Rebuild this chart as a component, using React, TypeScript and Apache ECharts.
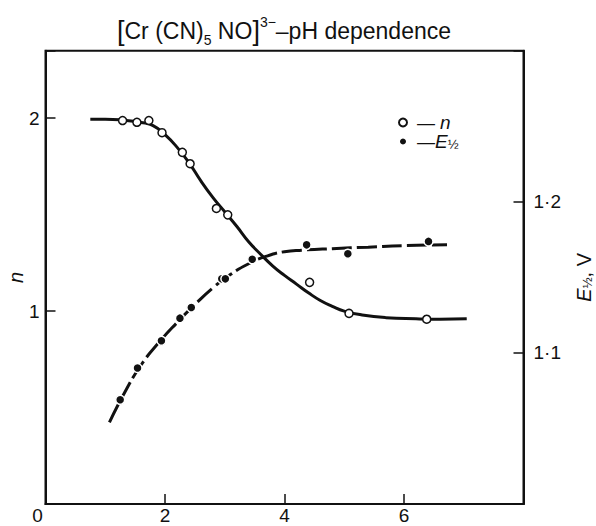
import React, { useEffect, useRef } from "react";
import * as echarts from "echarts";

// ---- data ----
// fitted n curve (left axis)
const nCurvePH = [0.75, 1.0, 1.3, 1.6, 1.8, 2.0, 2.2, 2.4, 2.6, 2.8, 3.0, 3.2, 3.4, 3.6, 3.8, 4.0, 4.2, 4.4, 4.6, 4.8, 5.0, 5.3, 5.7, 6.2, 6.6, 7.05];
const nCurveN = [1.995, 1.995, 1.99, 1.978, 1.962, 1.915, 1.85, 1.77, 1.675, 1.59, 1.515, 1.44, 1.36, 1.295, 1.235, 1.185, 1.14, 1.095, 1.055, 1.025, 1.0, 0.98, 0.966, 0.96, 0.958, 0.96];
// measured n (open circles)
const nPointsPH = [1.29, 1.53, 1.73, 1.95, 2.29, 2.42, 2.86, 3.05, 4.42, 5.08, 6.38];
const nPointsN = [1.988, 1.979, 1.988, 1.925, 1.823, 1.764, 1.532, 1.499, 1.149, 0.988, 0.958];
// fitted E1/2 curve (right axis, V)
const eCurvePH = [1.07, 1.3, 1.6, 1.9, 2.2, 2.5, 2.8, 3.1, 3.4, 3.7, 4.0, 4.3, 4.8, 5.4, 6.0, 6.72];
const eCurveE = [1.054, 1.072, 1.092, 1.107, 1.12, 1.132, 1.143, 1.152, 1.159, 1.164, 1.167, 1.168, 1.169, 1.17, 1.171, 1.1715];
// measured E1/2 (filled dots)
const ePointsPH = [1.25, 1.54, 1.94, 2.25, 2.44, 2.95, 3.01, 3.46, 4.37, 5.06, 6.41];
const ePointsE = [1.069, 1.09, 1.108, 1.123, 1.13, 1.149, 1.149, 1.162, 1.1715, 1.1656, 1.1738];

const xTicks = [0, 2, 4, 6];
const eTickLabels: Record<string, string> = { "1.1": "1·1", "1.2": "1·2" };

const FONT = "Liberation Sans";
const INK = "#111";

const pairs = (xs: number[], ys: number[]) => xs.map((x, i) => [x, ys[i]]);

export default function App() {
  const ref = useRef<HTMLDivElement>(null);
  useEffect(() => {
    if (!ref.current) return;
    const chart = echarts.init(ref.current, null, { renderer: "svg" });
    const base = { fontFamily: FONT, color: INK, fontWeight: "normal" };
    const option: any = {
      animation: false,
      backgroundColor: "#fff",
      textStyle: { fontFamily: FONT, color: INK },
      title: {
        text: "{b|[}{t|Cr (CN)}{sub|5}{t| NO}{b|]}{sup|3−}{t|–pH dependence}",
        left: 117,
        top: 15,
        padding: 0,
        textStyle: {
          fontWeight: "normal",
          rich: {
            t: { ...base, fontSize: 23, lineHeight: 32 },
            b: { ...base, fontSize: 27, lineHeight: 32 },
            sub: { ...base, fontSize: 14, lineHeight: 12, verticalAlign: "bottom" },
            sup: { ...base, fontSize: 14, lineHeight: 12, verticalAlign: "top" },
          },
        },
      },
      legend: {
        data: ["n", "E1/2"],
        orient: "vertical",
        left: 393,
        top: 108,
        itemWidth: 8,
        itemHeight: 8,
        itemGap: 0,
        selectedMode: false,
        formatter: (name: string) => (name === "n" ? " — {i|n}" : " —{i|E}{s|½}"),
        textStyle: {
          fontSize: 18,
          fontFamily: FONT,
          color: INK,
          rich: {
            i: { ...base, fontStyle: "italic", fontSize: 19 },
            s: { ...base, fontSize: 13, verticalAlign: "bottom", lineHeight: 10 },
          },
        },
      },
      grid: {
        left: 45.5,
        right: 72.5,
        top: 50.7,
        bottom: 22,
        containLabel: false,
        outerBoundsMode: "none",
        show: true,
        borderColor: INK,
        borderWidth: 2,
        backgroundColor: "transparent",
      },
      xAxis: {
        type: "value",
        min: 0,
        max: 8,
        interval: 2,
        axisLine: { lineStyle: { color: INK, width: 2 } },
        axisTick: { inside: true, length: 10, lineStyle: { color: INK, width: 1.5 } },
        axisLabel: {
          fontSize: 19,
          lineHeight: 18,
          fontFamily: FONT,
          color: INK,
          margin: 2,
          formatter: (v: number) => (v === 0 ? "{z|0}" : xTicks.includes(v) ? String(v) : ""),
          rich: { z: { ...base, fontSize: 19, lineHeight: 18, padding: [0, 16, 0, 0] } },
        },
        splitLine: { show: false },
      },
      yAxis: [
        {
          type: "value",
          min: 0,
          max: 2.35,
          interval: 1,
          position: "left",
          axisLine: { show: true, lineStyle: { color: INK, width: 2 } },
          axisTick: { show: true, inside: true, length: 10, lineStyle: { color: INK, width: 1.5 } },
          axisLabel: {
            fontSize: 19,
            fontFamily: FONT,
            color: INK,
            margin: 6,
            formatter: (v: number) => (v === 1 || v === 2 ? String(v) : ""),
          },
          splitLine: { show: false },
          name: "n",
          nameLocation: "middle",
          nameGap: 22,
          nameMoveOverlap: false,
          nameTextStyle: { fontStyle: "italic", fontSize: 20, lineHeight: 16, fontFamily: FONT, color: INK },
        },
        {
          type: "value",
          min: 1.0,
          max: 1.3,
          interval: 0.1,
          position: "right",
          axisLine: { show: true, lineStyle: { color: INK, width: 2 } },
          axisTick: { show: true, inside: true, length: 10, lineStyle: { color: INK, width: 1.5 } },
          axisLabel: {
            fontSize: 19,
            fontFamily: FONT,
            color: INK,
            margin: 10,
            formatter: (v: number) => eTickLabels[v.toFixed(1)] || "",
          },
          splitLine: { show: false },
          name: "{i|E}{s|½}{t|, V}",
          nameLocation: "middle",
          nameGap: 50,
          nameTextStyle: {
            rich: {
              i: { ...base, fontStyle: "italic", fontSize: 20 },
              s: { ...base, fontSize: 13, verticalAlign: "bottom", lineHeight: 10 },
              t: { ...base, fontSize: 20 },
            },
          },
        },
      ],
      series: [
        {
          name: "n curve",
          type: "line",
          yAxisIndex: 0,
          data: pairs(nCurvePH, nCurveN),
          smooth: true,
          showSymbol: false,
          lineStyle: { color: INK, width: 3 },
          z: 2,
        },
        {
          name: "E curve",
          type: "line",
          yAxisIndex: 1,
          data: pairs(eCurvePH, eCurveE),
          smooth: true,
          showSymbol: false,
          lineStyle: { color: INK, width: 3, type: [20, 5] },
          z: 2,
        },
        {
          name: "n",
          type: "scatter",
          yAxisIndex: 0,
          data: pairs(nPointsPH, nPointsN),
          symbol: "circle",
          symbolSize: 8,
          itemStyle: { color: "#fff", borderColor: INK, borderWidth: 1.5, opacity: 1 },
          z: 5,
        },
        {
          name: "E1/2",
          type: "scatter",
          yAxisIndex: 1,
          data: pairs(ePointsPH, ePointsE),
          symbol: "circle",
          symbolSize: 9,
          itemStyle: { color: INK, borderColor: "#fff", borderWidth: 1.5, opacity: 1 },
          z: 5,
        },
      ],
    };
    chart.setOption(option);
    return () => chart.dispose();
  }, []);
  return (
    <div
      ref={ref}
      style={{ position: "fixed", left: 0, top: 0, width: 596, height: 526, background: "#fff" }}
    />
  );
}
